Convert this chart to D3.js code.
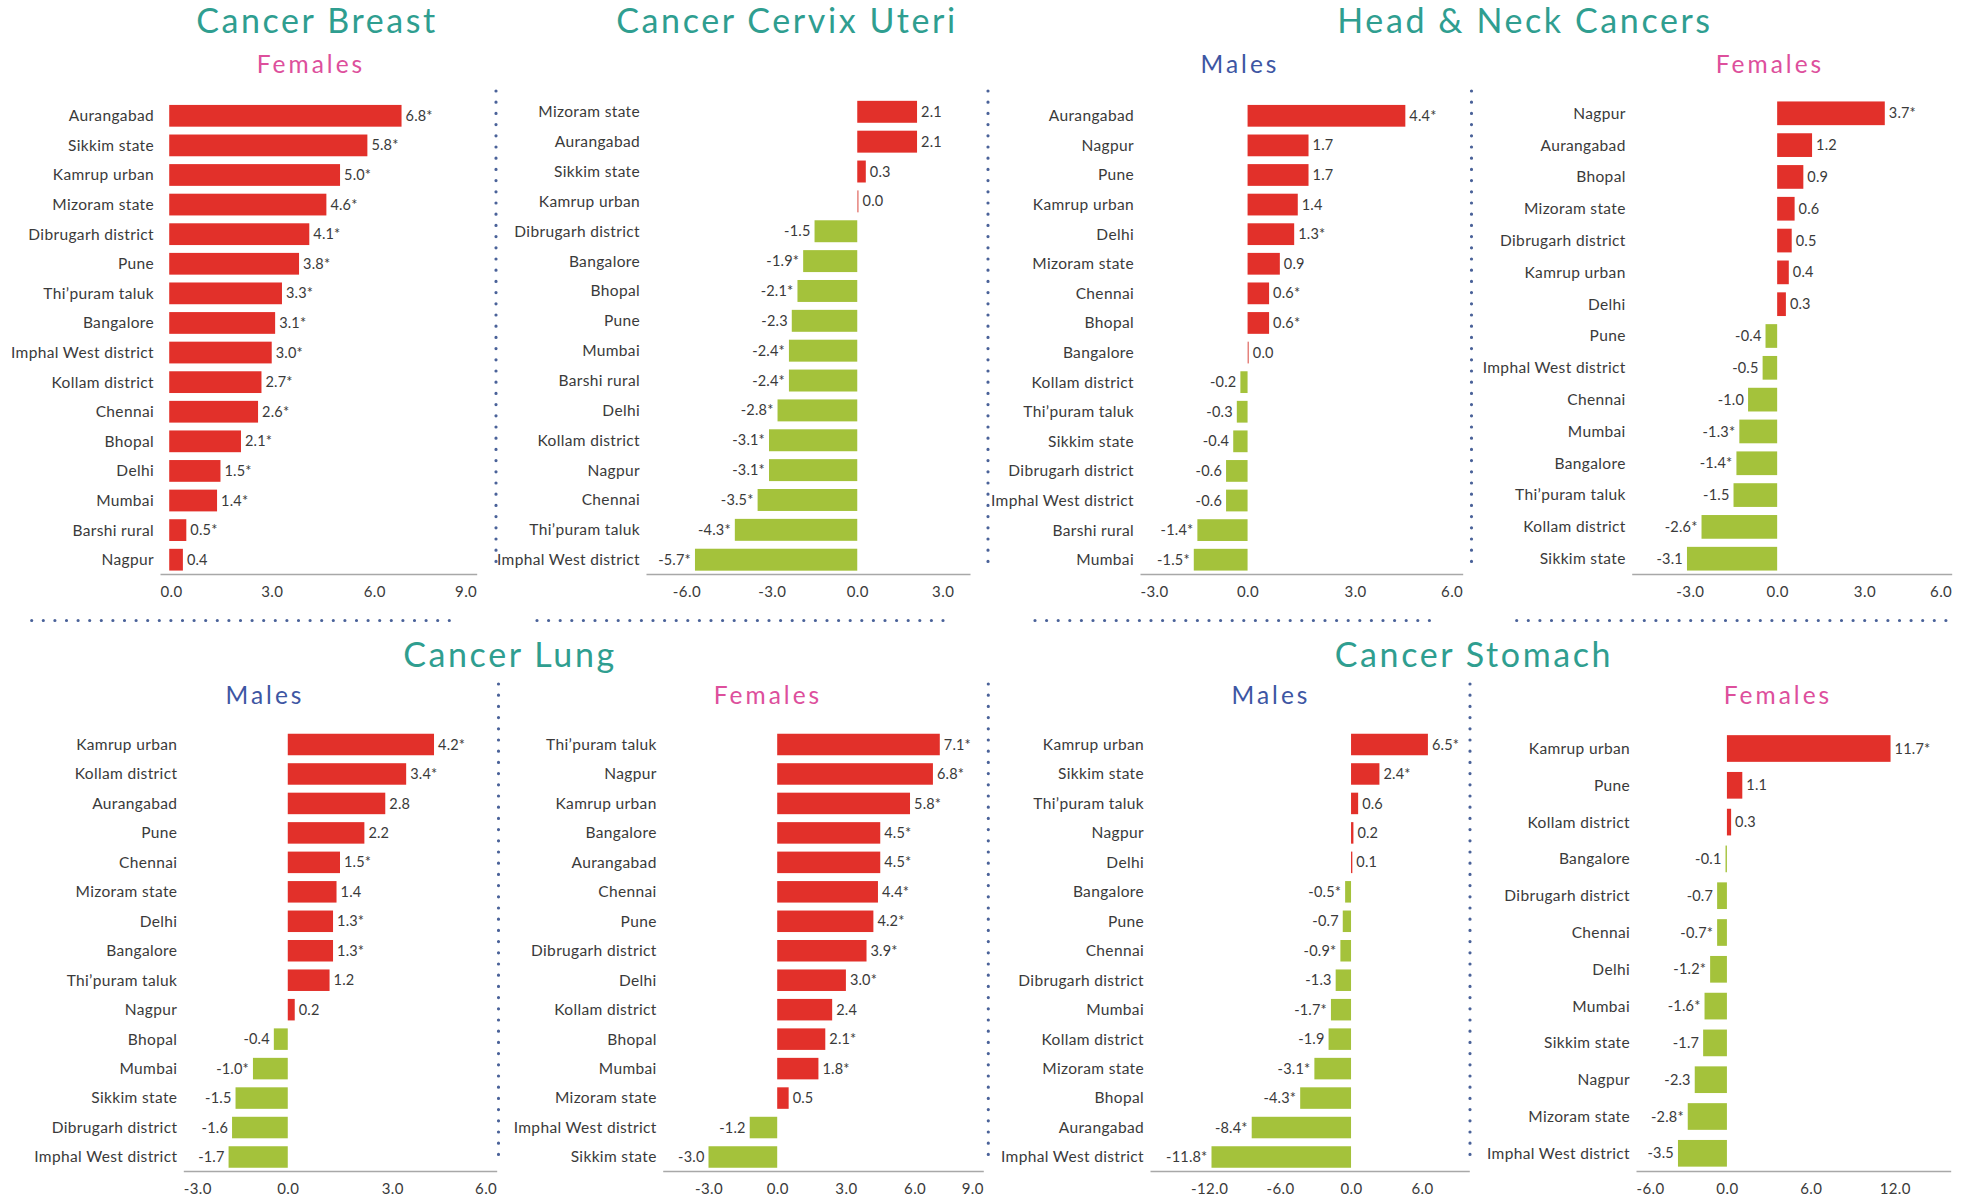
<!DOCTYPE html>
<html><head><meta charset="utf-8">
<script src="https://cdn.jsdelivr.net/npm/d3@7"></script>
<style>
body{margin:0;background:#fff}
svg{display:block;font-family:Lato,"Noto Sans",sans-serif}
</style>
</head><body>
<svg id="chart" width="1968" height="1197"></svg>
<script>
// ---------------- DATA ----------------
const breastF_cat = ["Aurangabad","Sikkim state","Kamrup urban","Mizoram state","Dibrugarh district","Pune","Thi’puram taluk","Bangalore","Imphal West district","Kollam district","Chennai","Bhopal","Delhi","Mumbai","Barshi rural","Nagpur"];
const breastF_val = [6.8,5.8,5.0,4.6,4.1,3.8,3.3,3.1,3.0,2.7,2.6,2.1,1.5,1.4,0.5,0.4];
const breastF_sig = [1,1,1,1,1,1,1,1,1,1,1,1,1,1,1,0];
const breastF_ticks = [0,3,6,9];

const cervix_cat = ["Mizoram state","Aurangabad","Sikkim state","Kamrup urban","Dibrugarh district","Bangalore","Bhopal","Pune","Mumbai","Barshi rural","Delhi","Kollam district","Nagpur","Chennai","Thi’puram taluk","Imphal West district"];
const cervix_val = [2.1,2.1,0.3,0.0,-1.5,-1.9,-2.1,-2.3,-2.4,-2.4,-2.8,-3.1,-3.1,-3.5,-4.3,-5.7];
const cervix_sig = [0,0,0,0,0,1,1,0,1,1,1,1,1,1,1,1];
const cervix_ticks = [-6,-3,0,3];

const hnM_cat = ["Aurangabad","Nagpur","Pune","Kamrup urban","Delhi","Mizoram state","Chennai","Bhopal","Bangalore","Kollam district","Thi’puram taluk","Sikkim state","Dibrugarh district","Imphal West district","Barshi rural","Mumbai"];
const hnM_val = [4.4,1.7,1.7,1.4,1.3,0.9,0.6,0.6,0.0,-0.2,-0.3,-0.4,-0.6,-0.6,-1.4,-1.5];
const hnM_sig = [1,0,0,0,1,0,1,1,0,0,0,0,0,0,1,1];
const hnM_ticks = [-3,0,3,6];

const hnF_cat = ["Nagpur","Aurangabad","Bhopal","Mizoram state","Dibrugarh district","Kamrup urban","Delhi","Pune","Imphal West district","Chennai","Mumbai","Bangalore","Thi’puram taluk","Kollam district","Sikkim state"];
const hnF_val = [3.7,1.2,0.9,0.6,0.5,0.4,0.3,-0.4,-0.5,-1.0,-1.3,-1.4,-1.5,-2.6,-3.1];
const hnF_sig = [1,0,0,0,0,0,0,0,0,0,1,1,0,1,0];
const hnF_ticks = [-3,0,3,6];

const lungM_cat = ["Kamrup urban","Kollam district","Aurangabad","Pune","Chennai","Mizoram state","Delhi","Bangalore","Thi’puram taluk","Nagpur","Bhopal","Mumbai","Sikkim state","Dibrugarh district","Imphal West district"];
const lungM_val = [4.2,3.4,2.8,2.2,1.5,1.4,1.3,1.3,1.2,0.2,-0.4,-1.0,-1.5,-1.6,-1.7];
const lungM_sig = [1,1,0,0,1,0,1,1,0,0,0,1,0,0,0];
const lungM_ticks = [-3,0,3,6];

const lungF_cat = ["Thi’puram taluk","Nagpur","Kamrup urban","Bangalore","Aurangabad","Chennai","Pune","Dibrugarh district","Delhi","Kollam district","Bhopal","Mumbai","Mizoram state","Imphal West district","Sikkim state"];
const lungF_val = [7.1,6.8,5.8,4.5,4.5,4.4,4.2,3.9,3.0,2.4,2.1,1.8,0.5,-1.2,-3.0];
const lungF_sig = [1,1,1,1,1,1,1,1,1,0,1,1,0,0,0];
const lungF_ticks = [-3,0,3,6,9];

const stomM_cat = ["Kamrup urban","Sikkim state","Thi’puram taluk","Nagpur","Delhi","Bangalore","Pune","Chennai","Dibrugarh district","Mumbai","Kollam district","Mizoram state","Bhopal","Aurangabad","Imphal West district"];
const stomM_val = [6.5,2.4,0.6,0.2,0.1,-0.5,-0.7,-0.9,-1.3,-1.7,-1.9,-3.1,-4.3,-8.4,-11.8];
const stomM_sig = [1,1,0,0,0,1,0,1,0,1,0,1,1,1,1];
const stomM_ticks = [-12,-6,0,6];

const stomF_cat = ["Kamrup urban","Pune","Kollam district","Bangalore","Dibrugarh district","Chennai","Delhi","Mumbai","Sikkim state","Nagpur","Mizoram state","Imphal West district"];
const stomF_val = [11.7,1.1,0.3,-0.1,-0.7,-0.7,-1.2,-1.6,-1.7,-2.3,-2.8,-3.5];
const stomF_sig = [1,0,0,0,0,1,1,1,0,0,1,0];
const stomF_ticks = [-6,0,6,12];

// ---------------- STYLE / LAYOUT ----------------
const RED = "#e2302a", GREEN = "#a4c23b", ZERO = "#e2716a";
const TEAL = "#2f9e90", PINK = "#dd4f9c", BLUE = "#3d56a3";
const TXT = "#3a3a3a", AXIS = "#a8a8a8", DOT = "#4a6299";

const svg = d3.select("#chart");
const loc = d3.formatLocale({decimal:".", thousands:",", grouping:[3], currency:["",""], minus:"-"});
const fmt = loc.format(".1f");

const panels = [
  {cat:breastF_cat, val:breastF_val, sig:breastF_sig, ticks:breastF_ticks, domain:[-0.27,9], xr:[160,476.7], yr:[115.8,559.7], axisY:574, ratio:0.735},
  {cat:cervix_cat, val:cervix_val, sig:cervix_sig, ticks:cervix_ticks, domain:[-7.42,3.96], xr:[646,970], yr:[111.8,559.7], axisY:574, ratio:0.735},
  {cat:hnM_cat, val:hnM_val, sig:hnM_sig, ticks:hnM_ticks, domain:[-3,6], xr:[1140,1462.7], yr:[115.8,559.7], axisY:574, ratio:0.735},
  {cat:hnF_cat, val:hnF_val, sig:hnF_sig, ticks:hnF_ticks, domain:[-5,6], xr:[1631.7,1951.7], yr:[113.3,558.7], axisY:574, ratio:0.745},
  {cat:lungM_cat, val:lungM_val, sig:lungM_sig, ticks:lungM_ticks, domain:[-3,6], xr:[183.3,496.7], yr:[744.5,1157], axisY:1171, ratio:0.73},
  {cat:lungF_cat, val:lungF_val, sig:lungF_sig, ticks:lungF_ticks, domain:[-5,9], xr:[662.7,983.3], yr:[744.5,1157], axisY:1171, ratio:0.73},
  {cat:stomM_cat, val:stomM_val, sig:stomM_sig, ticks:stomM_ticks, domain:[-17,10], xr:[1150,1469.3], yr:[744.5,1157], axisY:1171, ratio:0.73},
  {cat:stomF_cat, val:stomF_val, sig:stomF_sig, ticks:stomF_ticks, domain:[-6.5,16], xr:[1636,1950.7], yr:[748.5,1153.3], axisY:1171, ratio:0.725}
];

const titles = [
  {t:"Cancer Breast", x:317, y:33, c:TEAL, s:34},
  {t:"Cancer Cervix Uteri", x:787, y:33, c:TEAL, s:34},
  {t:"Head & Neck Cancers", x:1525, y:33, c:TEAL, s:34},
  {t:"Females", x:311, y:72.5, c:PINK, s:24.5},
  {t:"Males", x:1240, y:72.5, c:BLUE, s:24.5},
  {t:"Females", x:1770, y:72.5, c:PINK, s:24.5},
  {t:"Cancer Lung", x:510, y:666.5, c:TEAL, s:34},
  {t:"Cancer Stomach", x:1474, y:666.5, c:TEAL, s:34},
  {t:"Males", x:265, y:703.5, c:BLUE, s:24.5},
  {t:"Females", x:768, y:703.5, c:PINK, s:24.5},
  {t:"Males", x:1271, y:703.5, c:BLUE, s:24.5},
  {t:"Females", x:1778, y:703.5, c:PINK, s:24.5}
];

const vSeps = [[496,91,562],[988,91,562],[1471.5,91,562],[498.5,684,1160],[988.3,684,1160],[1470,684,1160]];
const hSeps = [[31.7,457,620.5],[537,950,620.5],[1035,1435,620.5],[1516.7,1953,620.5]];

// separators
svg.append("g").selectAll("line.v").data(vSeps).join("line")
  .attr("x1", d=>d[0]).attr("x2", d=>d[0]).attr("y1", d=>d[1]).attr("y2", d=>d[2])
  .attr("stroke", DOT).attr("stroke-width", 3.2).attr("stroke-linecap","round").attr("stroke-dasharray","0 11.2");
svg.append("g").selectAll("line.h").data(hSeps).join("line")
  .attr("x1", d=>d[0]).attr("x2", d=>d[1]).attr("y1", d=>d[2]).attr("y2", d=>d[2])
  .attr("stroke", DOT).attr("stroke-width", 3.2).attr("stroke-linecap","round").attr("stroke-dasharray","0 11.6");

// titles
svg.append("g").selectAll("text").data(titles).join("text")
  .attr("x", d=>d.x).attr("y", d=>d.y).attr("text-anchor","middle")
  .attr("fill", d=>d.c).style("font-size", d=>d.s+"px")
  .style("letter-spacing", d=> d.s>30 ? "2.6px" : "3px")
  .text(d=>d.t);

function drawPanel(p){
  const x = d3.scaleLinear().domain(p.domain).range(p.xr);
  const y = d3.scalePoint().domain(p.cat).range(p.yr);
  const bh = y.step() * p.ratio;
  const g = svg.append("g");
  const rows = p.val.map((v,i)=>({v, c:p.cat[i], s:p.sig[i]}));
  const w = d => Math.max(Math.abs(x(d.v)-x(0)), 1.3);

  g.selectAll("rect").data(rows).join("rect")
    .attr("x", d => d.v < 0 ? x(0) - w(d) : x(0))
    .attr("width", w)
    .attr("y", d => y(d.c) - bh/2)
    .attr("height", bh)
    .attr("fill", d => d.v > 0 ? RED : d.v < 0 ? GREEN : ZERO);

  // category labels
  g.selectAll("text.cat").data(rows).join("text").attr("class","cat")
    .attr("x", p.xr[0] - 6).attr("y", d => y(d.c)).attr("dy","0.35em")
    .attr("text-anchor","end").attr("fill", TXT)
    .style("font-size","15.5px").style("letter-spacing","0.35px")
    .text(d => d.c);

  // value labels
  g.selectAll("text.val").data(rows).join("text").attr("class","val")
    .attr("x", d => d.v < 0 ? x(0) - w(d) - 4 : x(0) + w(d) + 4)
    .attr("y", d => y(d.c)).attr("dy","0.35em")
    .attr("text-anchor", d => d.v < 0 ? "end" : "start").attr("fill", TXT)
    .style("font-size","14.5px").style("letter-spacing","0.2px")
    .text(d => fmt(d.v) + (d.s ? "*" : ""));

  // axis
  const ax = g.append("g").attr("transform", `translate(0,${p.axisY})`)
    .call(d3.axisBottom(x).tickValues(p.ticks).tickFormat(fmt).tickSize(0).tickSizeOuter(0).tickPadding(12));
  ax.select(".domain").attr("stroke", AXIS).attr("stroke-width", 1.6);
  ax.selectAll(".tick text").attr("fill", TXT).style("font-size","15px").style("font-family","Lato, sans-serif").style("letter-spacing","0.4px");
  ax.selectAll(".tick").each(function(d){
    const t = d3.select(this).select("text");
    const half = this.querySelector("text").getComputedTextLength()/2;
    const cx = x(d);
    const cl = Math.min(Math.max(cx, p.xr[0] + half), p.xr[1] - half);
    t.attr("x", cl - cx);
  });
}
panels.forEach(drawPanel);
</script>
</body></html>
